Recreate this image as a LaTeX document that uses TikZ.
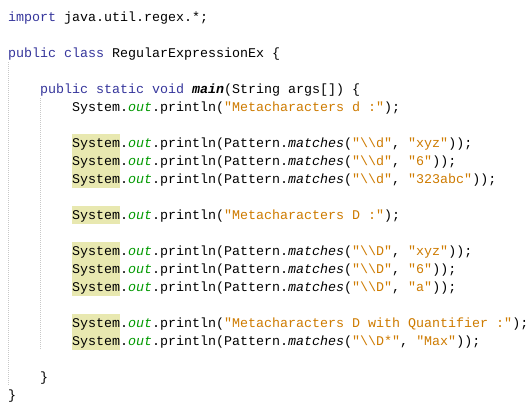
\documentclass[tikz,border=0pt]{standalone}
\usepackage{fontspec}
\setmonofont{Liberation Mono}
\definecolor{kwc}{HTML}{36369C}
\definecolor{strc}{HTML}{CE7B00}
\definecolor{outc}{HTML}{009900}
\definecolor{hlc}{HTML}{E8E8B0}
\definecolor{guidec}{HTML}{C8C8C8}
\newcommand\kw[1]{\textcolor{kwc}{#1}}
\newcommand\st[1]{\textcolor{strc}{#1}}
\newcommand\outf{\textcolor{outc}{\itshape out}}
\newcommand\bsl{\textbackslash\textbackslash}
\tikzset{
  codeline/.style={anchor=base west, inner sep=0pt, font=\ttfamily\fontsize{13.333}{18}\selectfont},
  hlbox/.style={fill=hlc, draw=none},
  guide/.style={draw=guidec, line width=0.8pt, dash pattern=on 1pt off 1pt}
}
\begin{document}
\begin{tikzpicture}[x=1pt,y=-1pt]
\useasboundingbox[fill=white] (0,0) rectangle (532,408);
% highlights of "System"
\foreach \i in {7,8,9,11,13,14,15,17,18}
  \fill[hlc] (72,{8+18*\i}) rectangle (120,{26+18*\i});
% indent guides
\draw[guide] (8.5,62) -- (8.5,386);
\draw[guide] (40.5,98) -- (40.5,350);
% code lines
\node[codeline] (l0) at (8,21) {\kw{import} java.util.regex.*;};
\node[codeline] (l2) at (8,57) {\kw{public} \kw{class} RegularExpressionEx \{};
\node[codeline] (l4) at (40,93) {\kw{public} \kw{static} \kw{void} \textbf{\textit{main}}(String args[]) \{};
\node[codeline] (l5) at (72,111) {System.\outf.println(\st{"Metacharacters d :"});};
\node[codeline] (l7) at (72,147) {System.\outf.println(Pattern.\textit{matches}(\st{"\bsl d"}, \st{"xyz"}));};
\node[codeline] (l8) at (72,165) {System.\outf.println(Pattern.\textit{matches}(\st{"\bsl d"}, \st{"6"}));};
\node[codeline] (l9) at (72,183) {System.\outf.println(Pattern.\textit{matches}(\st{"\bsl d"}, \st{"323abc"}));};
\node[codeline] (l11) at (72,219) {System.\outf.println(\st{"Metacharacters D :"});};
\node[codeline] (l13) at (72,255) {System.\outf.println(Pattern.\textit{matches}(\st{"\bsl D"}, \st{"xyz"}));};
\node[codeline] (l14) at (72,273) {System.\outf.println(Pattern.\textit{matches}(\st{"\bsl D"}, \st{"6"}));};
\node[codeline] (l15) at (72,291) {System.\outf.println(Pattern.\textit{matches}(\st{"\bsl D"}, \st{"a"}));};
\node[codeline] (l17) at (72,327) {System.\outf.println(\st{"Metacharacters D with Quantifier :"});};
\node[codeline] (l18) at (72,345) {System.\outf.println(Pattern.\textit{matches}(\st{"\bsl D*"}, \st{"Max"}));};
\node[codeline] (l20) at (40,381) {\}};
\node[codeline] (l21) at (8,399) {\}};
\end{tikzpicture}
\end{document}
